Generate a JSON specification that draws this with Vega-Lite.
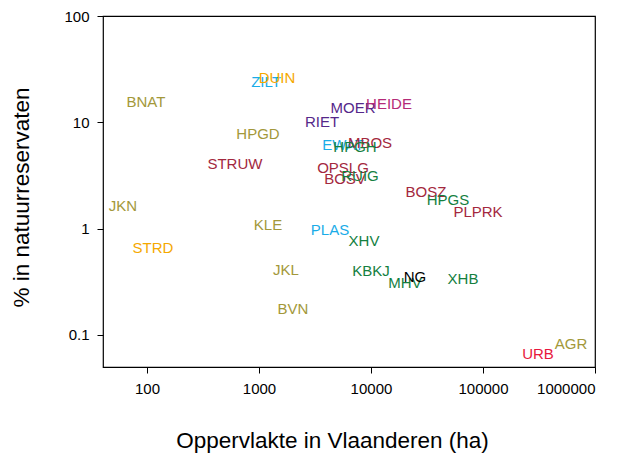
{
  "$schema": "https://vega.github.io/schema/vega-lite/v6.json",
  "width": 492,
  "height": 351,
  "autosize": "none",
  "padding": {"left": 103, "top": 16, "right": 31, "bottom": 87},
  "background": "white",
  "config": {
    "font": "Liberation Sans",
    "view": {"stroke": "black", "strokeWidth": 1.2},
    "axis": {
      "grid": false,
      "domain": false,
      "tickColor": "black",
      "tickSize": 6,
      "labelColor": "black",
      "labelFontSize": 15,
      "labelFont": "Liberation Sans",
      "titleFont": "Liberation Sans",
      "titleFontSize": 22.5,
      "titleFontWeight": "normal",
      "titleColor": "black"
    }
  },
  "data": {
    "values": [
      {"code": "ZILT", "opp": 1155, "pct": 23.8, "groep": "lichtblauw"},
      {"code": "DUIN", "opp": 1449, "pct": 26.0, "groep": "oranje"},
      {"code": "BNAT", "opp": 98, "pct": 15.5, "groep": "olijf"},
      {"code": "HPGD", "opp": 980, "pct": 7.7, "groep": "olijf"},
      {"code": "STRUW", "opp": 610, "pct": 4.1, "groep": "donkerrood"},
      {"code": "MOER", "opp": 6905, "pct": 13.6, "groep": "paars"},
      {"code": "HEIDE", "opp": 14490, "pct": 14.8, "groep": "magenta"},
      {"code": "RIET", "opp": 3650, "pct": 10.0, "groep": "paars"},
      {"code": "EWAT", "opp": 5623, "pct": 6.07, "groep": "lichtblauw"},
      {"code": "MBOS", "opp": 9795, "pct": 6.34, "groep": "donkerrood"},
      {"code": "HPGH", "opp": 7197, "pct": 5.81, "groep": "groen"},
      {"code": "OPSLG", "opp": 5623, "pct": 3.76, "groep": "donkerrood"},
      {"code": "BOSV", "opp": 5860, "pct": 2.9, "groep": "donkerrood"},
      {"code": "RUIG", "opp": 7980, "pct": 3.1, "groep": "groen"},
      {"code": "BOSZ", "opp": 30980, "pct": 2.19, "groep": "donkerrood"},
      {"code": "HPGS", "opp": 48700, "pct": 1.88, "groep": "groen"},
      {"code": "PLPRK", "opp": 90200, "pct": 1.45, "groep": "donkerrood"},
      {"code": "JKN", "opp": 61.1, "pct": 1.65, "groep": "olijf"},
      {"code": "KLE", "opp": 1203, "pct": 1.09, "groep": "olijf"},
      {"code": "PLAS", "opp": 4305, "pct": 0.98, "groep": "lichtblauw"},
      {"code": "STRD", "opp": 113, "pct": 0.662, "groep": "oranje"},
      {"code": "JKL", "opp": 1742, "pct": 0.41, "groep": "olijf"},
      {"code": "BVN", "opp": 2012, "pct": 0.176, "groep": "olijf"},
      {"code": "XHV", "opp": 8660, "pct": 0.77, "groep": "groen"},
      {"code": "KBKJ", "opp": 10000, "pct": 0.402, "groep": "groen"},
      {"code": "MHV", "opp": 20130, "pct": 0.31, "groep": "groen"},
      {"code": "NG", "opp": 24720, "pct": 0.352, "groep": "zwart"},
      {"code": "XHB", "opp": 66260, "pct": 0.337, "groep": "groen"},
      {"code": "URB", "opp": 309700, "pct": 0.0662, "groep": "rood"},
      {"code": "AGR", "opp": 610900, "pct": 0.0822, "groep": "olijf"}
    ]
  },
  "mark": {"type": "text", "fontSize": 15, "font": "Liberation Sans", "align": "center", "baseline": "middle"},
  "encoding": {
    "x": {
      "field": "opp",
      "type": "quantitative",
      "scale": {"type": "log", "domain": [40.5, 1000000], "nice": false},
      "axis": {"values": [100, 1000, 10000, 100000, 1000000], "format": "d", "title": "Oppervlakte in Vlaanderen (ha)", "labelPadding": 8, "titlePadding": 33, "titleX": 229}
    },
    "y": {
      "field": "pct",
      "type": "quantitative",
      "scale": {"type": "log", "domain": [0.05, 100], "nice": false},
      "axis": {"values": [0.1, 1, 10, 100], "format": "~g", "title": "% in natuurreservaten", "labelPadding": 8, "titlePadding": 30, "titleY": 181}
    },
    "text": {"field": "code"},
    "color": {
      "field": "groep",
      "type": "nominal",
      "legend": null,
      "scale": {
        "domain": ["olijf", "oranje", "lichtblauw", "donkerrood", "groen", "paars", "magenta", "zwart", "rood"],
        "range": ["#A3983A", "#F5A800", "#1AACE8", "#A3283E", "#14803F", "#55288A", "#B42A78", "#000000", "#E8173D"]
      }
    }
  }
}
